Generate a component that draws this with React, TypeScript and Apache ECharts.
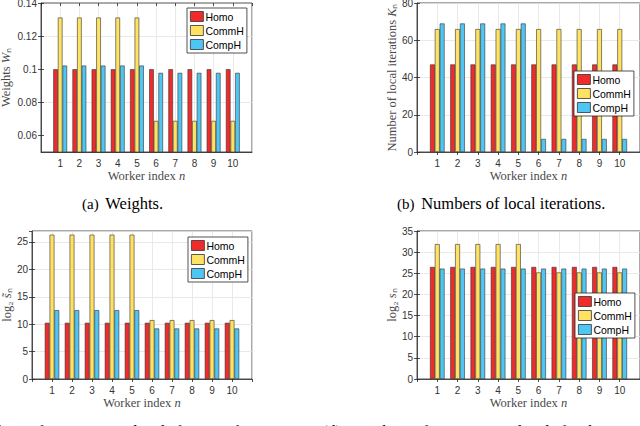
import React, { useEffect, useRef } from 'react';
import * as echarts from 'echarts';

const workers = [1, 2, 3, 4, 5, 6, 7, 8, 9, 10];
const seriesNames = ['Homo', 'CommH', 'CompH'];
const barColors = ['#ef2b2b', '#ffe262', '#4ec6f3'];

// (a) weights W_n
const weightsHomo = [0.1, 0.1, 0.1, 0.1, 0.1, 0.1, 0.1, 0.1, 0.1, 0.1];
const weightsCommH = [0.1312, 0.1312, 0.1312, 0.1312, 0.1312, 0.0688, 0.0688, 0.0688, 0.0688, 0.0688];
const weightsCompH = [0.1022, 0.1022, 0.1022, 0.1022, 0.1022, 0.0978, 0.0978, 0.0978, 0.0978, 0.0978];
const weightTicks = [0.06, 0.08, 0.1, 0.12, 0.14];

// (b) local iterations K_n
const itersHomo = [47, 47, 47, 47, 47, 47, 47, 47, 47, 47];
const itersCommH = [66, 66, 66, 66, 66, 66, 66, 66, 66, 66];
const itersCompH = [69, 69, 69, 69, 69, 7, 7, 7, 7, 7];

// (c) log2 of s~_n
const tildeHomo = [10.25, 10.25, 10.25, 10.25, 10.25, 10.25, 10.25, 10.25, 10.25, 10.25];
const tildeCommH = [26.33, 26.33, 26.33, 26.33, 26.33, 10.74, 10.74, 10.74, 10.74, 10.74];
const tildeCompH = [12.56, 12.56, 12.56, 12.56, 12.56, 9.22, 9.22, 9.22, 9.22, 9.22];

// (d) log2 of s_n
const levelsHomo = [26.5, 26.5, 26.5, 26.5, 26.5, 26.5, 26.5, 26.5, 26.5, 26.5];
const levelsCommH = [31.9, 31.9, 31.9, 31.9, 31.9, 25.2, 25.2, 25.2, 25.2, 25.2];
const levelsCompH = [26.1, 26.1, 26.1, 26.1, 26.1, 26.1, 26.1, 26.1, 26.1, 26.1];

const axisColor = '#262626';
const gridColor = '#e3e3e3';
const sans = 'Liberation Sans, Arial, sans-serif';
const serif = 'Liberation Serif, Times New Roman, serif';

const panels = [
  {
    grid: { left: 41, top: 3, width: 211, height: 149 },
    yMin: 0.05, yMax: 0.14, yInterval: 0.01, yTicks: weightTicks,
    yName: '{r|Weights }{i|W}{r|ₙ}', yNameGap: 29,
    data: [weightsHomo, weightsCommH, weightsCompH],
    legend: { left: 187, top: 8 },
  },
  {
    grid: { left: 417, top: 3, width: 223, height: 149 },
    yMin: 0, yMax: 80, yInterval: 20, yTicks: null,
    yName: '{r|Number of local iterations }{i|K}{r|ₙ}', yNameGap: 19,
    data: [itersHomo, itersCommH, itersCompH],
    legend: { left: 574, top: 71 },
  },
  {
    grid: { left: 32, top: 231, width: 220, height: 148 },
    yMin: 0, yMax: 27, yInterval: 5, yTicks: null,
    yName: '{r|log₂ }{i|s̃}{r|ₙ}', yNameGap: 19,
    data: [tildeHomo, tildeCommH, tildeCompH],
    legend: { left: 188, top: 237 },
  },
  {
    grid: { left: 417, top: 231, width: 223, height: 148 },
    yMin: 0, yMax: 35, yInterval: 5, yTicks: null,
    yName: '{r|log₂ }{i|s}{r|ₙ}', yNameGap: 19,
    data: [levelsHomo, levelsCommH, levelsCompH],
    legend: { left: 575, top: 293 },
  },
];

const nameRich = {
  r: { fontFamily: serif, fontSize: 12.5, color: '#4a4a4a' },
  i: { fontFamily: serif, fontSize: 12.5, fontStyle: 'italic', color: '#4a4a4a' },
};

const tickStyle = { show: true, inside: true, length: 3, lineStyle: { color: axisColor, width: 0.8 } };

const App: React.FC = () => {
  const chartRef = useRef<HTMLDivElement>(null);

  useEffect(() => {
    if (!chartRef.current) return;
    const chart = echarts.init(chartRef.current, null, { renderer: 'svg' });

    const grids: any[] = [];
    const xAxes: any[] = [];
    const yAxes: any[] = [];
    const legends: any[] = [];
    const series: any[] = [];

    panels.forEach((p, pi) => {
      grids.push({
        ...p.grid,
        show: true,
        borderColor: axisColor,
        borderWidth: 0.8,
        backgroundColor: '#fff',
        containLabel: false,
        outerBoundsMode: 'none',
      });

      const yFormatter = (v: number) => {
        if (p.yTicks) {
          const k = Math.round(v * 100);
          return k % 2 === 0 ? String(+v.toFixed(2)) : '';
        }
        return String(v);
      };

      // bottom x axis
      xAxes.push({
        gridIndex: pi,
        type: 'value',
        min: 0,
        max: 11,
        interval: 1,
        position: 'bottom',
        name: '{r|Worker index }{i|n}',
        nameLocation: 'middle',
        nameGap: 17,
        nameMoveOverlap: false,
        nameTextStyle: { rich: nameRich },
        axisLine: { show: true, lineStyle: { color: axisColor, width: 0.8 } },
        axisTick: tickStyle,
        axisLabel: {
          margin: 6,
          fontFamily: sans,
          fontSize: 10,
          color: '#333',
          showMinLabel: false,
          showMaxLabel: false,
          formatter: (v: number) => (v >= 1 && v <= 10 ? String(v) : ''),
        },
        splitLine: { show: true, lineStyle: { color: gridColor, width: 0.8 } },
      });
      // top x axis for the mirrored ticks
      xAxes.push({
        gridIndex: pi,
        type: 'value',
        min: 0,
        max: 11,
        interval: 1,
        position: 'top',
        axisLine: { show: false },
        axisTick: tickStyle,
        axisLabel: { show: false },
        splitLine: { show: false },
      });

      yAxes.push({
        gridIndex: pi,
        type: 'value',
        min: p.yMin,
        max: p.yMax,
        interval: p.yInterval,
        position: 'left',
        name: p.yName,
        nameLocation: 'middle',
        nameGap: p.yNameGap,
        nameMoveOverlap: false,
        nameTextStyle: { rich: nameRich },
        axisLine: { show: true, lineStyle: { color: axisColor, width: 0.8 } },
        axisTick: p.yTicks ? { ...tickStyle, customValues: p.yTicks } : tickStyle,
        axisLabel: {
          margin: 4,
          fontFamily: sans,
          fontSize: 10,
          color: '#333',
          showMaxLabel: p.yTicks ? true : p.yMax % p.yInterval === 0,
          showMinLabel: true,
          formatter: yFormatter,
          ...(p.yTicks ? { customValues: p.yTicks } : {}),
        },
        splitLine: {
          show: true,
          lineStyle: {
            color: p.yTicks ? ['rgba(0,0,0,0)', gridColor] : gridColor,
            width: 0.8,
          },
        },
      });
      yAxes.push({
        gridIndex: pi,
        type: 'value',
        min: p.yMin,
        max: p.yMax,
        interval: p.yInterval,
        position: 'right',
        axisLine: { show: false },
        axisTick: p.yTicks ? { ...tickStyle, customValues: p.yTicks } : tickStyle,
        axisLabel: { show: false },
        splitLine: { show: false },
      });

      legends.push({
        left: p.legend.left,
        top: p.legend.top,
        orient: 'vertical',
        data: seriesNames,
        selectedMode: false,
        icon: 'rect',
        itemWidth: 13,
        itemHeight: 10,
        itemGap: 3,
        padding: [3, 3, 3, 3],
        backgroundColor: '#fff',
        borderColor: axisColor,
        borderWidth: 0.8,
        borderRadius: 0,
        itemStyle: { borderColor: '#333', borderWidth: 0.8 },
        textStyle: { fontFamily: sans, fontSize: 10.5, color: '#000', padding: [0, 0, 0, -3] },
        z: 10,
      });

      seriesNames.forEach((name, si) => {
        series.push({
          name,
          type: 'bar',
          xAxisIndex: pi * 2,
          yAxisIndex: pi * 2,
          barWidth: '24%',
          barGap: '0%',
          data: workers.map((w, i) => [w, p.data[si][i]]),
          itemStyle: { color: barColors[si], borderColor: '#333', borderWidth: 0.6 },
          emphasis: { disabled: true },
        });
      });
    });

    const captionRich = {
      p: { fontFamily: serif, fontSize: 15, color: '#000' },
      t: { fontFamily: serif, fontSize: 16.5, color: '#000' },
    };

    const option = {
      animation: false,
      backgroundColor: '#fff',
      grid: grids,
      xAxis: xAxes,
      yAxis: yAxes,
      legend: legends,
      series,
      graphic: [
        {
          type: 'text',
          left: 82,
          top: 195,
          style: { text: '{p|(a)}  {t|Weights.}', rich: captionRich },
        },
        {
          type: 'text',
          left: 397,
          top: 195,
          style: { text: '{p|(b)}  {t|Numbers of local iterations.}', rich: captionRich },
        },
        {
          type: 'text',
          x: -2,
          y: 423,
          style: { text: 'bers of quantization levels for  s̃ₙ  of', font: `16.5px ${serif}`, fill: '#000', verticalAlign: 'top' },
        },
        {
          type: 'text',
          x: 322,
          y: 423,
          style: { text: '(d)  Numbers of quantization levels for the', font: `16.5px ${serif}`, fill: '#000', verticalAlign: 'top' },
        },
      ],
    };

    chart.setOption(option);

    return () => {
      chart.dispose();
    };
  }, []);

  return (
    <div
      ref={chartRef}
      style={{ position: 'fixed', left: 0, top: 0, width: '640px', height: '426px', background: '#fff' }}
    />
  );
};

export default App;
